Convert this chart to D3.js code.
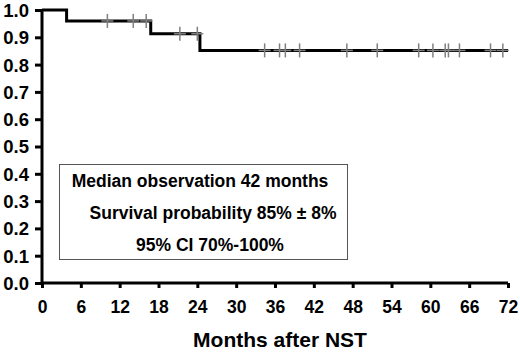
<!DOCTYPE html>
<html><head><meta charset="utf-8">
<script src="https://cdn.jsdelivr.net/npm/d3@7/dist/d3.min.js"></script>
<style>body{margin:0;background:#fff}svg{display:block}text{font-family:"Liberation Sans",Arial,sans-serif;font-weight:bold;fill:#000}</style>
</head><body><svg id="c" width="520" height="353"></svg>
<script>
// step curve: [time, survival]
const stepTimes = [0, 3.8, 16.8, 24.4, 72];
const stepSurv = [1.0, 0.96, 0.913, 0.852, 0.852];
// censored observations (months)
const censorTimes = [10.1, 14.1, 16.1, 21.3, 24.0, 34.4, 36.7, 37.6, 39.8, 47.1, 51.8, 58.2, 60.4, 62.3, 62.8, 64.5, 69.3, 71.2];
const xTicks = [0, 6, 12, 18, 24, 30, 36, 42, 48, 54, 60, 66, 72];
const yTicks = [0, 0.1, 0.2, 0.3, 0.4, 0.5, 0.6, 0.7, 0.8, 0.9, 1.0];
const legendLines = ["Median observation 42 months", "Survival probability 85% \u00b1 8%", "95% CI 70%-100%"];
const xTitle = "Months after NST";

const svg = d3.select("#c");
const x = d3.scaleLinear().domain([0, 72]).range([42, 508]);
const y = d3.scaleLinear().domain([0, 1]).range([283, 10]);

// axes
const xAxis = svg.append("g").attr("transform", `translate(0,${y(0)})`)
  .call(d3.axisBottom(x).tickValues(xTicks).tickSize(5).tickPadding(13).tickFormat(d3.format("d")));
const yAxis = svg.append("g").attr("transform", `translate(${x(0)},0)`)
  .call(d3.axisLeft(y).tickValues(yTicks).tickSize(7).tickPadding(6).tickFormat(d3.format(".1f")));
[xAxis, yAxis].forEach(g => {
  g.attr("font-size", null).attr("font-family", null);
  g.select(".domain").attr("stroke", "#000").attr("stroke-width", 3);
  g.selectAll(".tick line").attr("stroke", "#000").attr("stroke-width", 3);
  g.selectAll(".tick text").attr("fill", "#000");
});
xAxis.selectAll(".tick text").style("font-size", "17.5px");
yAxis.selectAll(".tick text").style("font-size", "18.5px").attr("dy", "0.35em");
xAxis.select(".domain").attr("d", `M${x(0)},0H${x(72)}`);
yAxis.select(".domain").attr("d", `M0,${y(1)}V${y(0)}`);

// survival step line
const pts = stepTimes.map((t, i) => [t, stepSurv[i]]);
svg.append("path").datum(pts)
  .attr("d", d3.line().x(d => x(d[0])).y(d => y(d[1])).curve(d3.curveStepAfter))
  .attr("fill", "none").attr("stroke", "#000").attr("stroke-width", 3);

// censor marks
function survAt(t) { let s = 1; for (let i = 0; i < stepTimes.length; i++) if (stepTimes[i] <= t) s = stepSurv[i]; return s; }
const cg = svg.append("g").attr("stroke", "#808080").attr("stroke-width", 1.5);
censorTimes.forEach(t => {
  const cx = x(t), cy = y(survAt(t));
  cg.append("line").attr("x1", cx).attr("x2", cx).attr("y1", cy - 7).attr("y2", cy + 7);
  cg.append("line").attr("x1", cx - 6).attr("x2", cx + 6).attr("y1", cy).attr("y2", cy);
});

// legend box
svg.append("rect").attr("x", 59.5).attr("y", 164.5).attr("width", 288).attr("height", 95)
  .attr("fill", "#fff").attr("stroke", "#555").attr("stroke-width", 1);
const lx = [200, 213, 210], ly = [187, 219, 251];
legendLines.forEach((s, i) => svg.append("text").attr("x", lx[i]).attr("y", ly[i])
  .attr("text-anchor", "middle").style("font-size", "17.5px").text(s));

svg.append("text").attr("x", 280).attr("y", 347).attr("text-anchor", "middle")
  .style("font-size", "21px").text(xTitle);
</script></body></html>
